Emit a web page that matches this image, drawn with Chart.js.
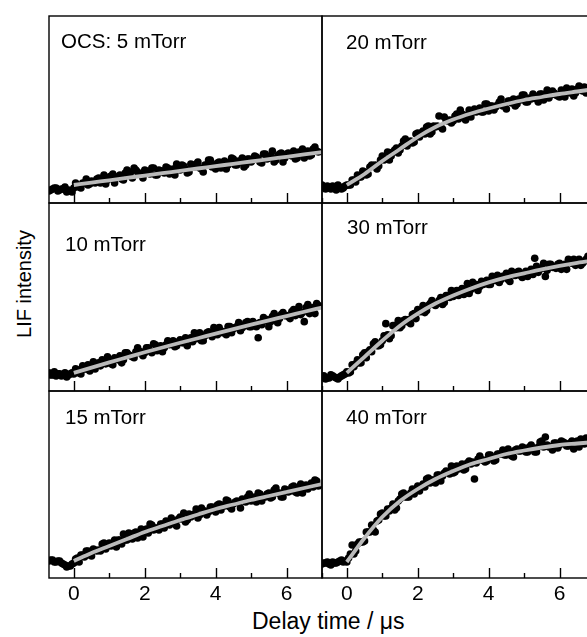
<!DOCTYPE html>
<html>
<head>
<meta charset="utf-8">
<script src="https://cdn.jsdelivr.net/npm/chart.js@4.4.1/dist/chart.umd.min.js"></script>
<style>
  html, body { margin: 0; padding: 0; background: #fff; overflow: hidden; }
  body { width: 587px; height: 637px; position: relative; font-family: "Liberation Sans", Arial, sans-serif; color: #000; }
  canvas { position: absolute; }
  .lbl { position: absolute; font-size: 20.5px; line-height: 20px; white-space: nowrap; }
  #xtitle { position: absolute; left: 252px; top: 610px; font-size: 23px; line-height: 23px; white-space: nowrap; }
  #ytitle { position: absolute; left: 24px; top: 284px; font-size: 20px; line-height: 20px; white-space: nowrap;
            transform: translate(-50%, -50%) rotate(-90deg); }
</style>
</head>
<body>
<div id="xtitle">Delay time / μs</div>
<div id="ytitle">LIF intensity</div>
<script>
// delay times of the measured points (µs), two interleaved scans
const delay = [-0.7, -0.6, -0.5, -0.4, -0.3, -0.2, -0.1,
  0, 0.1, 0.2, 0.3, 0.4, 0.5, 0.6, 0.7, 0.8, 0.9,
  1, 1.1, 1.2, 1.3, 1.4, 1.5, 1.6, 1.7, 1.8, 1.9,
  2, 2.1, 2.2, 2.3, 2.4, 2.5, 2.6, 2.7, 2.8, 2.9,
  3, 3.1, 3.2, 3.3, 3.4, 3.5, 3.6, 3.7, 3.8, 3.9,
  4, 4.1, 4.2, 4.3, 4.4, 4.5, 4.6, 4.7, 4.8, 4.9,
  5, 5.1, 5.2, 5.3, 5.4, 5.5, 5.6, 5.7, 5.8, 5.9,
  6, 6.1, 6.2, 6.3, 6.4, 6.5, 6.6, 6.7, 6.8, 6.9];
const delay2 = [-0.65, -0.55, -0.45, -0.35, -0.25, -0.15, -0.05,
  0.05, 0.15, 0.25, 0.35, 0.45, 0.55, 0.65, 0.75, 0.85, 0.95,
  1.05, 1.15, 1.25, 1.35, 1.45, 1.55, 1.65, 1.75, 1.85, 1.95,
  2.05, 2.15, 2.25, 2.35, 2.45, 2.55, 2.65, 2.75, 2.85, 2.95,
  3.05, 3.15, 3.25, 3.35, 3.45, 3.55, 3.65, 3.75, 3.85, 3.95,
  4.05, 4.15, 4.25, 4.35, 4.45, 4.55, 4.65, 4.75, 4.85, 4.95,
  5.05, 5.15, 5.25, 5.35, 5.45, 5.55, 5.65, 5.75, 5.85, 5.95,
  6.05, 6.15, 6.25, 6.35, 6.45, 6.55, 6.65, 6.75, 6.85];

// delay times of the fitted curves (µs)
const fitDelay = [0, 0.5, 1, 1.5, 2, 2.5, 3, 3.5, 4, 4.5, 5, 5.5, 6, 6.5, 7];

const pressures = ['OCS: 5 mTorr', '20 mTorr', '10 mTorr', '30 mTorr', '15 mTorr', '40 mTorr'];

// LIF intensity (arb. units)
const lif5 = [-3, -1, 0, -2, -1, -4, -3,
  0, 1.5, 0, 5, 3, 7, 5, 10, 7, 4,
  11, 14, 11, 13, 8, 18, 16, 20, 16, 13,
  18, 16, 20, 13, 18, 17, 21, 14, 19, 24,
  18, 22, 15, 24, 21, 26, 19, 23, 28, 21,
  19, 26, 24, 19, 26, 29, 23, 26, 21, 29,
  26, 32, 29, 25, 34, 30, 37, 28, 34, 26,
  34, 33, 37, 30, 35, 30, 37, 33, 41, 36];
const lif5b = [-2, 0, -3, -1, 1, -2, -4,
  5, 1, 5, 9, 4, 6, 9, 5, 13, 8,
  12, 5, 11, 9, 15, 13, 10, 18, 14, 10,
  17, 14, 20, 13, 17, 15, 20, 18, 13, 21,
  23, 19, 16, 22, 24, 20, 16, 23, 28, 23,
  25, 20, 27, 23, 30, 23, 27, 30, 23, 29,
  28, 31, 26, 34, 29, 32, 26, 32, 35, 30,
  35, 32, 29, 36, 39, 35, 32, 39, 37];
const lif20 = [3, -1, 0, 2, -2, 1, 0,
  3, 3, 8, 13, 11, 16, 14, 23, 23, 22,
  32, 29, 28, 36, 40, 38, 47, 42, 47, 46,
  55, 55, 54, 62, 56, 61, 72, 59, 68, 68,
  67, 74, 78, 71, 73, 71, 79, 78, 76, 84,
  77, 82, 81, 86, 82, 79, 87, 89, 84, 88,
  93, 86, 89, 92, 86, 94, 93, 90, 97, 93,
  91, 97, 100, 95, 92, 99, 98, 101, 96, 99];
const lif20b = [1, 2, -1, 1, 3, -1, 2,
  3, 8, 6, 11, 17, 13, 21, 22, 19, 28,
  28, 36, 32, 38, 35, 42, 49, 45, 45, 54,
  51, 57, 61, 54, 62, 62, 61, 71, 67, 65,
  72, 69, 74, 68, 78, 76, 76, 80, 76, 84,
  82, 78, 83, 89, 83, 87, 85, 82, 89, 93,
  86, 90, 94, 89, 94, 88, 98, 93, 95, 92,
  98, 91, 96, 99, 95, 102, 97, 95, 100];
const lif10 = [3, 1, 0, 2, 1, -1, 2,
  2, 6, 2, 7, 11, 8, 7, 13, 16, 12,
  16, 11, 17, 20, 16, 23, 20, 18, 28, 24,
  23, 28, 23, 31, 27, 24, 31, 31, 35, 30,
  36, 33, 30, 38, 43, 38, 35, 40, 44, 39,
  44, 48, 43, 41, 49, 47, 49, 45, 50, 54,
  49, 52, 38, 51, 55, 49, 59, 59, 57, 63,
  60, 57, 66, 64, 61, 54, 71, 67, 62, 70];
const lif10b = [1, 4, 2, 0, 3, 1, 3,
  7, 3, 10, 7, 5, 14, 11, 10, 14, 19,
  12, 18, 16, 13, 23, 21, 19, 24, 23, 20,
  28, 25, 32, 25, 30, 28, 35, 34, 29, 34,
  33, 38, 37, 34, 37, 43, 35, 43, 42, 48,
  41, 45, 44, 49, 43, 48, 53, 48, 53, 49,
  54, 49, 53, 58, 56, 54, 62, 53, 61, 60,
  59, 64, 60, 69, 63, 68, 62, 68, 72];
const lif30 = [-1, -3, -2, 0, -2, -1, 1,
  4, 4, 9, 16, 13, 23, 24, 24, 34, 30,
  35, 52, 37, 50, 48, 48, 55, 54, 52, 62,
  66, 64, 63, 70, 75, 70, 75, 71, 80, 78,
  79, 85, 85, 81, 92, 86, 88, 85, 94, 93,
  91, 99, 95, 93, 99, 102, 94, 101, 103, 100,
  102, 99, 106, 117, 103, 107, 99, 111, 108, 107,
  112, 109, 106, 113, 116, 112, 110, 114, 119, 112];
const lif30b = [0, -2, 1, -1, -3, 0, 2,
  3, 11, 12, 13, 21, 18, 26, 32, 30, 31,
  40, 41, 40, 50, 55, 50, 56, 56, 61, 57,
  64, 70, 65, 72, 71, 72, 78, 73, 80, 85,
  81, 80, 87, 86, 82, 93, 91, 89, 91, 95,
  91, 97, 100, 96, 99, 96, 104, 100, 104, 98,
  104, 104, 101, 109, 106, 112, 105, 111, 108, 111,
  106, 111, 116, 112, 110, 116, 112, 116, 118];
const lif15 = [2, 3, 1, 2, -1, -4, -3,
  0, 5, 8, 6, 12, 7, 13, 13, 19, 14,
  20, 19, 16, 23, 29, 23, 25, 30, 25, 34,
  32, 30, 38, 35, 33, 39, 42, 38, 42, 37,
  46, 50, 43, 46, 49, 45, 55, 52, 51, 56,
  51, 59, 58, 63, 56, 59, 62, 55, 62, 66,
  62, 66, 70, 62, 66, 70, 66, 75, 70, 66,
  73, 72, 77, 70, 79, 76, 74, 80, 83, 77];
const lif15b = [3, 1, 2, 0, -2, -3, -1,
  4, 1, 8, 12, 8, 14, 12, 12, 20, 17,
  17, 23, 23, 19, 23, 30, 24, 31, 30, 26,
  34, 39, 33, 35, 39, 35, 40, 45, 39, 44,
  44, 41, 49, 48, 54, 48, 52, 48, 56, 54,
  58, 53, 57, 62, 54, 61, 60, 64, 61, 69,
  64, 61, 69, 66, 69, 65, 73, 70, 66, 74,
  71, 76, 71, 76, 70, 78, 77, 76, 82];
const lif40 = [-1, 0, -1, 1, 0, 2, 1,
  1, 9, 9, 19, 21, 22, 31, 38, 31, 43,
  50, 47, 52, 59, 55, 64, 70, 66, 70, 69,
  77, 76, 76, 85, 83, 80, 88, 87, 92, 89,
  90, 97, 96, 93, 100, 99, 84, 104, 103, 101,
  108, 105, 103, 109, 113, 108, 111, 106, 114, 112,
  115, 111, 118, 111, 116, 122, 126, 116, 113, 120,
  118, 121, 117, 120, 114, 122, 124, 119, 120, 124];
const lif40b = [0, 1, -2, 0, 1, 3, 2,
  5, 18, 12, 21, 21, 31, 31, 33, 42, 49,
  47, 54, 55, 53, 62, 69, 66, 66, 74, 74,
  72, 79, 84, 80, 83, 88, 82, 90, 91, 97,
  91, 94, 99, 94, 102, 101, 100, 107, 103, 102,
  108, 102, 109, 109, 108, 114, 107, 113, 112, 116,
  111, 116, 115, 111, 121, 116, 118, 116, 120, 115,
  122, 120, 117, 122, 119, 116, 122, 125, 120];

// fitted curves
const fit5 = [3, 5.4, 7.7, 10.1, 12.4, 14.8, 17.1, 19.5, 21.8, 24.2, 26.5, 28.9, 31.2, 33.6, 35.9];
const fit20 = [3, 14, 27, 39, 51, 61, 68.5, 74.5, 79.5, 84, 88, 91, 94, 96.5, 99];
const fit10 = [3, 8.3, 13.5, 18.5, 23.5, 28.3, 33, 37.5, 42, 46.5, 51, 55.3, 59.5, 63.8, 68];
const fit30 = [3, 19, 35, 50, 62, 72, 80, 87, 93, 98, 102, 106, 109.5, 112.5, 115];
const fit15 = [2, 10, 17, 24, 31, 37, 43, 48.5, 54, 58.5, 63, 67, 71, 75, 79];
const fit40 = [1, 25, 46, 62, 74, 84, 92, 99, 104, 109, 112.5, 115.5, 118, 119.5, 121];

const xTicks = [0, 2, 4, 6];

Chart.defaults.font.family = '"Liberation Sans", Arial, sans-serif';
Chart.defaults.color = '#000';

// panel boxes on the page
const PAD = 4;
const AXIS_H = 30;
const panels = [
  { label: pressures[0], lif: lif5,  lifB: lif5b,  fit: fit5,  left: 49,  top: 16,  w: 273, h: 187, lx: 61,  ly: 31,  axis: false },
  { label: pressures[1], lif: lif20, lifB: lif20b, fit: fit20, left: 322, top: 16,  w: 273, h: 187, lx: 346, ly: 32,  axis: false },
  { label: pressures[2], lif: lif10, lifB: lif10b, fit: fit10, left: 49,  top: 203, w: 273, h: 188, lx: 65,  ly: 234, axis: false },
  { label: pressures[3], lif: lif30, lifB: lif30b, fit: fit30, left: 322, top: 203, w: 273, h: 188, lx: 347, ly: 217, axis: false },
  { label: pressures[4], lif: lif15, lifB: lif15b, fit: fit15, left: 49,  top: 391, w: 273, h: 187, lx: 65,  ly: 407, axis: true },
  { label: pressures[5], lif: lif40, lifB: lif40b, fit: fit40, left: 322, top: 391, w: 273, h: 187, lx: 346, ly: 407, axis: true }
];

// box and inward ticks, placed with the chart's own x scale
const framePlugin = {
  id: 'frame',
  afterDraw(chart) {
    const { ctx, chartArea: a } = chart;
    const x = chart.scales.x;
    ctx.save();
    ctx.strokeStyle = '#000';
    ctx.lineWidth = 1.4;
    ctx.strokeRect(a.left, a.top, a.right - a.left, a.bottom - a.top);
    for (let v = 0; v <= 7; v++) {
      const px = Math.round(x.getPixelForValue(v)) + 0.5;
      const len = v % 2 === 0 ? 10 : 5;
      ctx.beginPath();
      ctx.moveTo(px, a.bottom);
      ctx.lineTo(px, a.bottom - len);
      ctx.stroke();
    }
    ctx.restore();
  }
};

panels.forEach(p => {
  const cv = document.createElement('canvas');
  const cw = p.w + 2 * PAD;
  const ch = p.h + 2 * PAD + (p.axis ? AXIS_H : 0);
  cv.width = cw;
  cv.height = ch;
  cv.style.width = cw + 'px';
  cv.style.height = ch + 'px';
  cv.style.left = (p.left - PAD) + 'px';
  cv.style.top = (p.top - PAD) + 'px';
  document.body.appendChild(cv);

  const lbl = document.createElement('div');
  lbl.className = 'lbl';
  lbl.textContent = p.label;
  lbl.style.left = p.lx + 'px';
  lbl.style.top = p.ly + 'px';
  document.body.appendChild(lbl);

  const points = delay.map((t, i) => ({ x: t, y: p.lif[i] }))
    .concat(delay2.map((t, i) => ({ x: t, y: p.lifB[i] })));

  new Chart(cv.getContext('2d'), {
    type: 'scatter',
    data: {
      datasets: [
        {
          label: 'fit',
          data: fitDelay.map((t, i) => ({ x: t, y: p.fit[i] })),
          showLine: true,
          borderColor: '#bababa',
          borderWidth: 3.8,
          pointRadius: 0,
          cubicInterpolationMode: 'monotone',
          order: 0
        },
        {
          label: p.label,
          data: points,
          backgroundColor: '#000',
          borderWidth: 0,
          pointRadius: 3.8,
          order: 1
        }
      ]
    },
    options: {
      responsive: false,
      animation: false,
      events: [],
      layout: { padding: PAD },
      plugins: { legend: { display: false }, tooltip: { enabled: false } },
      scales: {
        x: {
          type: 'linear',
          min: -0.7,
          max: 7,
          display: p.axis,
          grid: { display: false, drawTicks: false },
          border: { display: false },
          ticks: { font: { size: 21 }, color: '#000', padding: 4 },
          afterBuildTicks: s => { s.ticks = xTicks.map(v => ({ value: v })); },
          afterFit: s => { if (p.axis) s.height = AXIS_H; }
        },
        y: { display: false, min: -15, max: 172 }
      }
    },
    plugins: [framePlugin]
  });
});
</script>
</body>
</html>
